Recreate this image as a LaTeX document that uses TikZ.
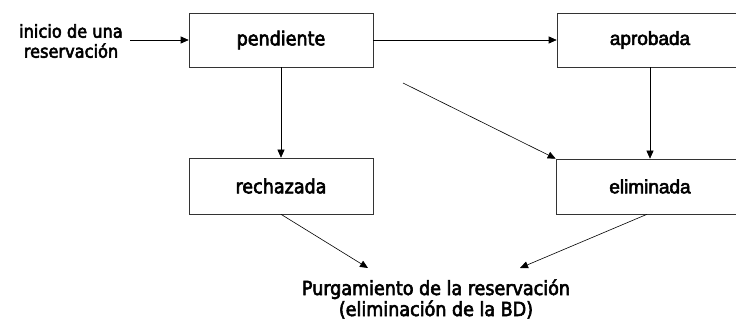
\documentclass[tikz,border=0pt]{standalone}
\usepackage{fontspec}
\newfontfamily\tahf[BoldFont=DejaVu Sans Condensed,BoldFeatures={FakeBold=3}]{DejaVu Sans Condensed}
\newfontfamily\arif[BoldFont=Liberation Sans,BoldFeatures={FakeBold=3}]{Liberation Sans}
\usetikzlibrary{arrows.meta}
\begin{document}
\begin{tikzpicture}[x=1pt,y=-1pt,
  box/.style={draw=black!80,line width=0.6pt,rectangle,inner sep=0pt},
  tlab/.style={font=\tahf\bfseries\fontsize{19.5}{21}\selectfont,align=center,inner sep=0pt},
  alab/.style={font=\arif\bfseries\fontsize{19}{21}\selectfont},
  arr/.style={draw=black,line width=0.6pt,-{Triangle[length=8pt,width=7pt]}}]
\useasboundingbox (0,0) rectangle (736,323);
\node[tlab,font=\tahf\bfseries\fontsize{18}{20}\selectfont] (ini) at (71,41) {inicio de una\\reservación};
\node[box,tlab,minimum width=184pt,minimum height=54pt] (pend) at (281,40) {pendiente};
\node[box,alab,minimum width=186pt,minimum height=54pt] (apro) at (650,40) {aprobada};
\node[box,tlab,minimum width=184pt,minimum height=56pt] (rech) at (281,186) {rechazada};
\node[box,alab,minimum width=188pt,minimum height=55pt] (elim) at (650,186.5) {eliminada};
\node[tlab] (purg) at (436,299) {Purgamiento de la reservación\\(eliminación de la BD)};
\coordinate (d0) at (403,83);
\coordinate (p1) at (368,268);
\coordinate (p2) at (520,268);
\coordinate (s0) at (130,40);
\draw[arr] (s0) -- (pend.west);
\draw[arr] (pend.east) -- (apro.west);
\draw[arr] (pend.south) -- (rech.north);
\draw[arr] (d0) -- (elim.north west);
\draw[arr] (apro.south) -- (elim.north);
\draw[arr] (rech.south) -- (p1);
\draw[arr] ([xshift=-3pt]elim.south) -- (p2);
\end{tikzpicture}
\end{document}
